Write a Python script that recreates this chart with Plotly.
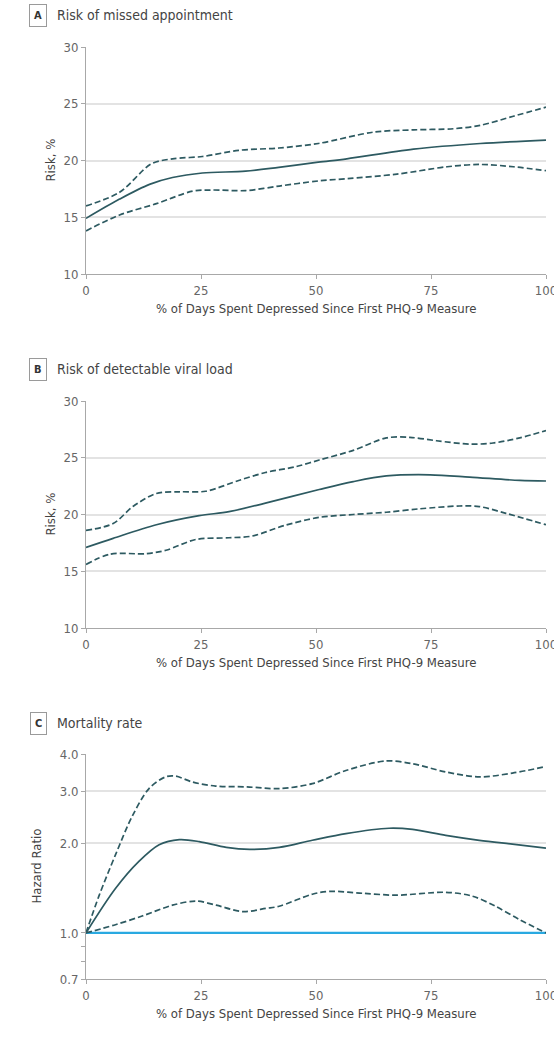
import math
import plotly.graph_objects as go

W, H = 554, 1040

# ---------------- data ----------------
x_ticks = [0, 25, 50, 75, 100]
x_tick_labels = ["0", "25", "50", "75", "100"]
risk_ticks = [10, 15, 20, 25, 30]
risk_tick_labels = ["10", "15", "20", "25", "30"]
hr_ticks = [0.7, 1.0, 2.0, 3.0, 4.0]
hr_tick_labels = ["0.7", "1.0", "2.0", "3.0", "4.0"]
hr_minor_ticks = [0.8, 0.9]

panel_titles = ["Risk of missed appointment", "Risk of detectable viral load", "Mortality rate"]
panel_letters = ["A", "B", "C"]
x_title = "% of Days Spent Depressed Since First PHQ-9 Measure"
y_titles = ["Risk, %", "Risk, %", "Hazard Ratio"]

# Panel A
a_mean_x = [0, 7.3, 13.8, 18.8, 25.3, 34.7, 41.9, 50.5, 56.7, 71.2, 85.7, 100]
a_mean_y = [14.9, 16.6, 17.9, 18.5, 18.9, 19.06, 19.4, 19.85, 20.15, 21.0, 21.5, 21.8]
a_up_x = [0, 7.3, 14.2, 18.8, 25.3, 33.2, 41.9, 50.5, 62.5, 71.2, 79.9, 85.7, 92.9, 100]
a_up_y = [16.0, 17.2, 19.7, 20.15, 20.35, 20.9, 21.1, 21.5, 22.5, 22.7, 22.8, 23.1, 23.9, 24.7]
a_lo_x = [0, 7.3, 15.3, 23.2, 27.5, 34.7, 42.0, 50.5, 56.7, 67.6, 78.5, 85.7, 92.9, 100]
a_lo_y = [13.8, 15.2, 16.2, 17.3, 17.4, 17.35, 17.75, 18.2, 18.4, 18.8, 19.45, 19.65, 19.45, 19.1]

# Panel B
b_mean_x = [0, 5.9, 15.3, 24.6, 31.1, 39.0, 50.7, 58.1, 65.3, 74.8, 83.4, 94.3, 100]
b_mean_y = [17.1, 17.9, 19.1, 19.9, 20.25, 21.0, 22.2, 22.9, 23.4, 23.5, 23.3, 23.0, 22.95]
b_up_x = [0, 5.9, 10.2, 15.3, 20.3, 26.0, 33.2, 39.0, 45.5, 50.7, 58.1, 65.3, 70.4, 76.2, 83.4, 88.5, 94.3, 100]
b_up_y = [18.6, 19.2, 20.7, 21.85, 22.0, 22.05, 23.0, 23.7, 24.2, 24.8, 25.65, 26.75, 26.8, 26.5, 26.2, 26.3, 26.75, 27.4]
b_lo_x = [0, 5.2, 13.1, 17.4, 23.9, 31.1, 36.1, 43.3, 50.7, 58.1, 65.3, 72.5, 81.2, 85.5, 91.3, 100]
b_lo_y = [15.6, 16.5, 16.55, 16.85, 17.8, 17.95, 18.1, 19.05, 19.75, 20.0, 20.2, 20.5, 20.75, 20.7, 20.1, 19.1]

# Panel C (hazard ratio)
c_ref_x = [0, 100]
c_ref_y = [1.0, 1.0]
c_mean_x = [0, 6.4, 11.5, 15.9, 20.3, 24.6, 30.5, 35.6, 42.0, 49.2, 56.5, 65.9, 71.0, 78.2, 85.5, 92.7, 100]
c_mean_y = [1.0, 1.41, 1.74, 1.98, 2.06, 2.03, 1.94, 1.91, 1.94, 2.05, 2.16, 2.25, 2.23, 2.13, 2.05, 1.99, 1.93]
c_up_x = [0, 2.8, 6.4, 10.0, 13.7, 17.3, 19.5, 23.1, 28.2, 35.0, 42.0, 49.2, 56.5, 65.2, 71.0, 78.2, 85.5, 92.7, 100]
c_up_y = [1.0, 1.33, 1.83, 2.46, 3.06, 3.35, 3.37, 3.22, 3.12, 3.1, 3.06, 3.18, 3.52, 3.79, 3.71, 3.48, 3.35, 3.45, 3.63]
c_lo_x = [0, 6.4, 12.2, 18.8, 23.9, 28.3, 34.1, 39.2, 42.0, 49.2, 52.9, 60.1, 67.4, 78.2, 84.0, 89.0, 94.2, 100]
c_lo_y = [1.0, 1.066, 1.14, 1.24, 1.28, 1.24, 1.18, 1.21, 1.23, 1.35, 1.38, 1.36, 1.34, 1.37, 1.33, 1.23, 1.11, 1.0]

# ---------------- style ----------------
FONT = "'Liberation Sans Narrow', 'DejaVu Sans Condensed', 'Roboto Condensed', 'Arial Narrow', Roboto, sans-serif"
LINE = "#2d5a61"
REF = "#29a9e1"
GRID = "#e3e3e3"
AXIS = "#a8a8a8"
TICKFONT = dict(family=FONT, size=13, color="#666666")
DASH = "6px,3px"

def px_x(p):
    return p / W

def px_y(p):
    return 1 - p / H

# plot areas in pixels (left, right, top, bottom)
X_L, X_R = 86, 546
panels_px = [(47, 274), (401, 628), (754, 979)]

fig = go.Figure()

def add_line(xs, ys, axis_idx, dashed, color=LINE, width=1.7, shape="spline"):
    suffix = "" if axis_idx == 1 else str(axis_idx)
    fig.add_trace(go.Scatter(
        x=xs, y=ys, mode="lines",
        line=dict(color=color, width=width, dash=DASH if dashed else "solid",
                  shape=shape, smoothing=0.9 if shape == "spline" else None),
        xaxis="x" + suffix, yaxis="y" + suffix,
        hoverinfo="skip", showlegend=False,
    ))

add_line(a_up_x, a_up_y, 1, True)
add_line(a_lo_x, a_lo_y, 1, True)
add_line(a_mean_x, a_mean_y, 1, False)

add_line(b_up_x, b_up_y, 2, True)
add_line(b_lo_x, b_lo_y, 2, True)
add_line(b_mean_x, b_mean_y, 2, False)

add_line(c_ref_x, c_ref_y, 3, False, color=REF, width=2.2, shape="linear")
add_line(c_up_x, c_up_y, 3, True)
add_line(c_lo_x, c_lo_y, 3, True)
add_line(c_mean_x, c_mean_y, 3, False)

layout = dict(
    width=W, height=H,
    margin=dict(l=0, r=0, t=0, b=0),
    paper_bgcolor="white", plot_bgcolor="white",
    font=dict(family=FONT, size=13, color="#555555"),
    showlegend=False,
)

for i, (top, bot) in enumerate(panels_px, start=1):
    suffix = "" if i == 1 else str(i)
    xa = dict(
        domain=[px_x(X_L), px_x(X_R)], range=[0, 100],
        tickmode="array", tickvals=x_ticks, ticktext=x_tick_labels,
        showline=True, linecolor=AXIS, linewidth=1,
        ticks="outside", ticklen=4, tickcolor=AXIS, tickwidth=1,
        showgrid=False, zeroline=False, tickfont=TICKFONT,
        ticklabeloverflow="allow",
        anchor="y" + suffix, automargin=False,
    )
    ya = dict(
        domain=[px_y(bot), px_y(top)],
        showline=True, linecolor=AXIS, linewidth=1,
        ticks="outside", ticklen=4, tickcolor=AXIS, tickwidth=1,
        showgrid=True, gridcolor=GRID, gridwidth=1.5, zeroline=False,
        tickfont=TICKFONT, anchor="x" + suffix, automargin=False,
    )
    if i < 3:
        ya.update(range=[10, 30], tickmode="array", tickvals=risk_ticks, ticktext=risk_tick_labels)
    else:
        ya.update(type="log", range=[math.log10(0.7), math.log10(4.0)],
                  tickmode="array", tickvals=hr_ticks, ticktext=hr_tick_labels,
                  minor=dict(tickvals=hr_minor_ticks, ticks="outside", ticklen=4,
                             tickcolor=AXIS, showgrid=False))
    layout["xaxis" + suffix] = xa
    layout["yaxis" + suffix] = ya

fig.update_layout(**layout)

# titles and headings
title_centers = [15.5, 369.5, 723]
ytitle_x = [50, 50, 36]
for i, (top, bot) in enumerate(panels_px):
    cy = title_centers[i]
    fig.add_annotation(
        x=px_x(38), y=px_y(cy), xref="paper", yref="paper",
        text="<b>%s</b>" % panel_letters[i], showarrow=False,
        font=dict(family=FONT, size=11, color="#333333"),
        bordercolor="#9a9a9a", borderwidth=1, borderpad=4,
        xanchor="center", yanchor="middle",
    )
    fig.add_annotation(
        x=px_x(55), y=px_y(cy), xref="paper", yref="paper",
        text=panel_titles[i], showarrow=False,
        font=dict(family=FONT, size=14, color="#444444"),
        xanchor="left", yanchor="middle",
    )
    fig.add_annotation(
        x=px_x((X_L + X_R) / 2), y=px_y(bot + 34), xref="paper", yref="paper",
        text=x_title, showarrow=False,
        font=dict(family=FONT, size=13, color="#444444"),
        xanchor="center", yanchor="middle",
    )
    fig.add_annotation(
        x=px_x(ytitle_x[i]), y=px_y((top + bot) / 2), xref="paper", yref="paper",
        text=y_titles[i], showarrow=False, textangle=-90,
        font=dict(family=FONT, size=13, color="#444444"),
        xanchor="center", yanchor="middle",
    )

fig.write_html("out.html")
